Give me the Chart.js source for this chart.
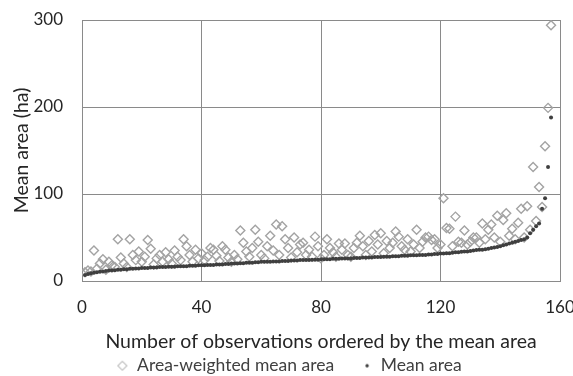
<!DOCTYPE html>
<html>
<head>
<meta charset="utf-8">
<script src="https://cdn.jsdelivr.net/npm/chart.js@4.4.1/dist/chart.umd.min.js"></script>
<style>
  html, body { margin: 0; padding: 0; background: #fff; }
  #wrap { width: 573px; height: 376px; }
</style>
</head>
<body>
<div id="wrap"><canvas id="chart" width="573" height="376"></canvas></div>
<script>
'use strict';

// ************************** DATA ****************************************** //
// observations 1..157, ordered by mean area
let meanArea = [
  7, 8, 9, 9.5, 10, 10.5, 11, 11.5, 12, 12,
  12.5, 13, 13, 13.5, 13.5, 14, 14, 14.5, 14.5, 15,
  15, 15, 15.5, 15.5, 15.5, 16, 16, 16, 16.5, 16.5,
  16.5, 17, 17, 17, 17, 17.5, 17.5, 17.5, 18, 18,
  18, 18.5, 18.5, 18.5, 19, 19, 19, 19.5, 19.5, 20,
  20, 20, 20.5, 20.5, 21, 21, 21, 21.5, 21.5, 22,
  22, 22, 22, 22.5, 22.5, 22.5, 23, 23, 23, 23.5,
  23.5, 23.5, 24, 24, 24, 24, 24.5, 24.5, 24.5, 25,
  25, 25, 25, 25.5, 25.5, 25.5, 26, 26, 26, 26,
  26.5, 26.5, 26.5, 27, 27, 27, 27, 27.5, 27.5, 27.5,
  28, 28, 28, 28.5, 28.5, 28.5, 29, 29, 29, 29.5,
  29.5, 29.5, 30, 30, 30, 30.5, 30.5, 31, 31, 31.5,
  31.5, 32, 32, 32.5, 33, 33, 33.5, 34, 34, 34.5,
  35, 35.5, 36, 36, 36.5, 37, 38, 38.5, 39, 40,
  41, 42, 43, 44, 45, 46, 47, 48,
  50, 55, 59, 63, 66, 83, 95, 131, 188
];

let weightedArea = [
  10, 12, 11, 35, 14, 20, 25, 13, 22, 18,
  16, 48, 27, 20, 16, 48, 30, 24, 34, 22,
  28, 47, 37, 19, 26, 30, 22, 33, 25, 20,
  35, 28, 24, 48, 40, 30, 22, 36, 26, 32,
  24, 28, 38, 36, 29, 23, 40, 36, 27, 22,
  30, 25, 58, 44, 34, 28, 38, 59, 45, 30,
  26, 40, 52, 35, 65, 30, 63, 48, 38, 27,
  50, 33, 42, 44, 30, 36, 28, 51, 40, 26,
  30, 48, 38, 33, 28, 43, 36, 43, 30, 28,
  38, 44, 52, 40, 30, 46, 34, 53, 42, 55,
  32, 46, 38, 44, 57, 51, 40, 36, 48, 34,
  42, 59, 38, 45, 50, 51, 47, 48, 38, 42,
  95, 61, 60, 40, 74, 45, 44, 58, 42, 45,
  50, 50, 44, 66, 48, 59, 65, 50, 75, 45,
  70, 78, 52, 60, 48, 67, 83, 50,
  86, 59, 131, 69, 108, 85, 155, 199, 294
];

let xTicks = [0, 40, 80, 120, 160];
let yTicks = [0, 100, 200, 300];

let labelWeighted = 'Area-weighted mean area';
let labelMean = 'Mean area';
let xTitle = 'Number of observations ordered by the mean area';
let yTitle = 'Mean area (ha)';

// ************************** HELPERS *************************************** //
function toPoints(values) {
  let pts = [];
  for(let i = 0; i < values.length; i++) {
    pts.push({ x: i + 1, y: values[i] });
  }
  return pts;
}

// legend icons: 30px wide, symbol sits near the right end
function makeIcon(kind) {
  let c = document.createElement('canvas');
  c.width = 30;
  c.height = 12;
  let g = c.getContext('2d');
  if(kind === 'diamond') {
    g.strokeStyle = '#9a9a9a';
    g.lineWidth = 1;
    g.beginPath();
    g.moveTo(24, 1.5);
    g.lineTo(28.5, 6);
    g.lineTo(24, 10.5);
    g.lineTo(19.5, 6);
    g.closePath();
    g.stroke();
  } else {
    g.fillStyle = '#404040';
    g.beginPath();
    g.arc(25, 6, 1.7, 0, Math.PI * 2);
    g.fill();
  }
  return c;
}

let iconDiamond = makeIcon('diamond');
let iconDot = makeIcon('dot');

// ************************** CHART ***************************************** //
let font = 'Lato, "Open Sans", sans-serif';
let chart = document.getElementById('chart');

let chartObj = {
  type: 'scatter',
  data: {
    datasets: [{
      label: labelMean,
      data: toPoints(meanArea),
      pointStyle: 'circle',
      pointRadius: 2,
      backgroundColor: '#3f3f3f',
      borderColor: '#3f3f3f',
      borderWidth: 0
    },
    {
      label: labelWeighted,
      data: toPoints(weightedArea),
      pointStyle: 'rectRot',
      pointRadius: 4.5,
      backgroundColor: 'rgba(0,0,0,0)',
      borderColor: '#a3a3a3',
      borderWidth: 1.4
    }]
  },
  options: {
    responsive: false,
    animation: false,
    layout: {
      padding: { left: 0, right: 13, top: 20, bottom: 0 }
    },
    plugins: {
      tooltip: { enabled: false },
      legend: {
        position: 'bottom',
        maxHeight: 27,
        labels: {
          usePointStyle: true,
          pointStyleWidth: 30,
          boxHeight: 12,
          padding: 8,
          color: '#404040',
          font: { family: font, size: 17.5 },
          generateLabels: function(ch) {
            return [
              { text: labelWeighted, pointStyle: iconDiamond, fillStyle: '#fff', strokeStyle: '#fff', lineWidth: 0, fontColor: '#404040', datasetIndex: 1 },
              { text: labelMean, pointStyle: iconDot, fillStyle: '#fff', strokeStyle: '#fff', lineWidth: 0, fontColor: '#404040', datasetIndex: 0 }
            ];
          }
        }
      }
    },
    scales: {
      x: {
        type: 'linear',
        min: xTicks[0],
        max: xTicks[xTicks.length - 1],
        afterBuildTicks: function(axis) {
          axis.ticks = xTicks.map(v => ({ value: v }));
        },
        afterFit: function(axis) {
          axis.height = 68;
          axis.paddingLeft = 0;
          axis.paddingRight = 0;
        },
        grid: {
          color: '#8a8a8a',
          lineWidth: 1,
          drawTicks: false
        },
        border: { color: '#8a8a8a', width: 1 },
        ticks: {
          color: '#262626',
          padding: 16,
          maxRotation: 0,
          font: { family: font, size: 17 }
        },
        title: {
          display: true,
          text: xTitle,
          color: '#262626',
          padding: { top: 0, bottom: -4 },
          font: { family: font, size: 19.5 }
        }
      },
      y: {
        min: yTicks[0],
        max: yTicks[yTicks.length - 1],
        afterBuildTicks: function(axis) {
          axis.ticks = yTicks.map(v => ({ value: v }));
        },
        afterFit: function(axis) {
          axis.width = 82;
          axis.paddingTop = 0;
          axis.paddingBottom = 0;
        },
        grid: {
          color: '#8a8a8a',
          lineWidth: 1,
          drawTicks: false
        },
        border: { color: '#8a8a8a', width: 1 },
        ticks: {
          color: '#262626',
          padding: 19,
          font: { family: font, size: 17 }
        },
        title: {
          display: true,
          text: yTitle,
          color: '#262626',
          padding: { top: 10, bottom: 0 },
          font: { family: font, size: 19.5 }
        }
      }
    }
  }
};

new Chart(chart, chartObj);
</script>
</body>
</html>
